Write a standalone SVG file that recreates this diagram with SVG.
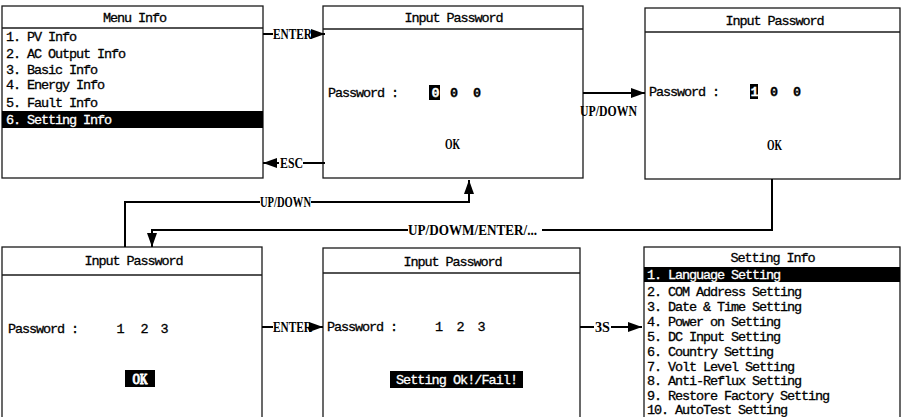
<svg xmlns="http://www.w3.org/2000/svg" width="902" height="417" viewBox="0 0 902 417">
<defs>
<style>
.box{fill:#fff;stroke:#1a1a1a;stroke-width:1.3}
.sep{stroke:#1a1a1a;stroke-width:1.3;fill:none}
.t{font-family:"Liberation Mono","DejaVu Sans Mono",monospace;font-size:13.5px;letter-spacing:-1.1px;fill:#000;stroke:#000;stroke-width:0.3}
.lbl{font-family:"Liberation Serif","DejaVu Serif",serif;font-weight:bold;font-size:15px;fill:#000}
.c{text-anchor:middle}
.b{font-weight:bold}
.hl{fill:#000}
text.w{fill:#fff;stroke:#fff}
.conn{stroke:#000;stroke-width:2;fill:none}
</style>
<marker id="ah" markerUnits="userSpaceOnUse" markerWidth="15" markerHeight="12" viewBox="0 -6 15 12" refX="14" refY="0" orient="auto">
<path d="M0,-5 L14,0 L0,5 z" fill="#000"/>
</marker>
</defs>

<g id="menu-info">
<rect class="box" x="2" y="6" width="261" height="172"/>
<line class="sep" x1="2" y1="28" x2="263" y2="28"/>
<text class="t c" x="134.5" y="21.5">Menu Info</text>
<text class="t" x="6" y="40.5">1. PV Info</text>
<text class="t" x="6" y="57.5">2. AC Output Info</text>
<text class="t" x="6" y="73.5">3. Basic Info</text>
<text class="t" x="6" y="88.5">4. Energy Info</text>
<text class="t" x="6" y="106.5">5. Fault Info</text>
<rect class="hl" x="2" y="111" width="261" height="17"/>
<text class="t w" x="6" y="123.5">6. Setting Info</text>
</g>

<g id="input-password-000">
<rect class="box" x="323" y="6" width="260" height="172"/>
<line class="sep" x1="323" y1="29" x2="583" y2="29"/>
<text class="t c" x="453.5" y="21.5">Input Password</text>
<text class="t" x="328" y="96.5">Password :</text>
<rect class="hl" x="429" y="85" width="11" height="15"/>
<text class="t c b w" x="435" y="96.5">0</text>
<text class="t c b" x="453.5" y="96.5">0</text>
<text class="t c b" x="476.5" y="96.5">0</text>
<text class="lbl c" x="452.5" y="148.5" textLength="15" lengthAdjust="spacingAndGlyphs">OK</text>
</g>

<g id="input-password-100">
<rect class="box" x="645" y="8" width="255" height="171"/>
<line class="sep" x1="645" y1="32" x2="900" y2="32"/>
<text class="t c" x="774.5" y="24.5">Input Password</text>
<text class="t" x="649" y="95.5">Password :</text>
<rect class="hl" x="750" y="84" width="8" height="15"/>
<text class="t c b w" x="754" y="95.5">1</text>
<text class="t c b" x="773.5" y="95.5">0</text>
<text class="t c b" x="796.5" y="95.5">0</text>
<text class="lbl c" x="774.5" y="149.5" textLength="15" lengthAdjust="spacingAndGlyphs">OK</text>
</g>

<g id="input-password-123">
<rect class="box" x="2" y="247" width="260" height="185"/>
<line class="sep" x1="2" y1="275" x2="262" y2="275"/>
<text class="t c" x="133.5" y="264.5">Input Password</text>
<text class="t" x="8" y="332.5">Password :</text>
<text class="t c" x="120" y="332.5">1</text>
<text class="t c" x="144" y="332.5">2</text>
<text class="t c" x="164" y="332.5">3</text>
<rect class="hl" x="125" y="370" width="30" height="17"/>
<text class="lbl c w" x="140" y="384" textLength="15" lengthAdjust="spacingAndGlyphs">OK</text>
</g>

<g id="input-password-result">
<rect class="box" x="323" y="248" width="257" height="184"/>
<line class="sep" x1="323" y1="273" x2="580" y2="273"/>
<text class="t c" x="452.5" y="265.5">Input Password</text>
<text class="t" x="327" y="330.5">Password :</text>
<text class="t c" x="438.5" y="330.5">1</text>
<text class="t c" x="460" y="330.5">2</text>
<text class="t c" x="481" y="330.5">3</text>
<rect class="hl" x="390" y="371" width="133" height="17"/>
<text class="t w" x="396" y="384" textLength="121">Setting Ok!/Fail!</text>
</g>

<g id="setting-info">
<rect class="box" x="644" y="247" width="256" height="185"/>
<text class="t c" x="772.5" y="261.5">Setting Info</text>
<rect class="hl" x="644" y="267" width="256" height="15"/>
<text class="t w" x="647" y="278.5">1. Language Setting</text>
<text class="t" x="647" y="296">2. COM Address Setting</text>
<text class="t" x="647" y="311">3. Date &amp; Time Setting</text>
<text class="t" x="647" y="326">4. Power on Setting</text>
<text class="t" x="647" y="341">5. DC Input Setting</text>
<text class="t" x="647" y="356">6. Country Setting</text>
<text class="t" x="647" y="370.5">7. Volt Level Setting</text>
<text class="t" x="647" y="385">8. Anti-Reflux Setting</text>
<text class="t" x="647" y="399.5">9. Restore Factory Setting</text>
<text class="t" x="647" y="413.5">10. AutoTest Setting</text>
</g>

<g id="connectors">
<path class="conn" d="M263,34 H273"/>
<path class="conn" d="M312,34 H325" marker-end="url(#ah)"/>
<text class="lbl" x="273" y="39" textLength="39" lengthAdjust="spacingAndGlyphs">ENTER</text>

<path class="conn" d="M325,163 H303"/>
<path class="conn" d="M279,163 H263" marker-end="url(#ah)"/>
<text class="lbl" x="280" y="168" textLength="23" lengthAdjust="spacingAndGlyphs">ESC</text>

<path class="conn" d="M583,93 H645" marker-end="url(#ah)"/>
<text class="lbl" x="580" y="116" textLength="57" lengthAdjust="spacingAndGlyphs">UP/DOWN</text>

<path class="conn" d="M125,247 V202 H260"/>
<path class="conn" d="M311,202 H469 V180" marker-end="url(#ah)"/>
<text class="lbl" x="260" y="207" textLength="51" lengthAdjust="spacingAndGlyphs">UP/DOWN</text>

<path class="conn" d="M772,179 V230 H542"/>
<path class="conn" d="M408,230 H152 V247" marker-end="url(#ah)"/>
<text class="lbl" x="408" y="235" textLength="129" lengthAdjust="spacingAndGlyphs">UP/DOWM/ENTER/...</text>

<path class="conn" d="M262,327 H273"/>
<path class="conn" d="M312,327 H323" marker-end="url(#ah)"/>
<text class="lbl" x="273" y="332" textLength="39" lengthAdjust="spacingAndGlyphs">ENTER</text>

<path class="conn" d="M580,327 H594"/>
<path class="conn" d="M611,327 H642" marker-end="url(#ah)"/>
<text class="lbl" x="595" y="332" textLength="15" lengthAdjust="spacingAndGlyphs">3S</text>
</g>
</svg>
